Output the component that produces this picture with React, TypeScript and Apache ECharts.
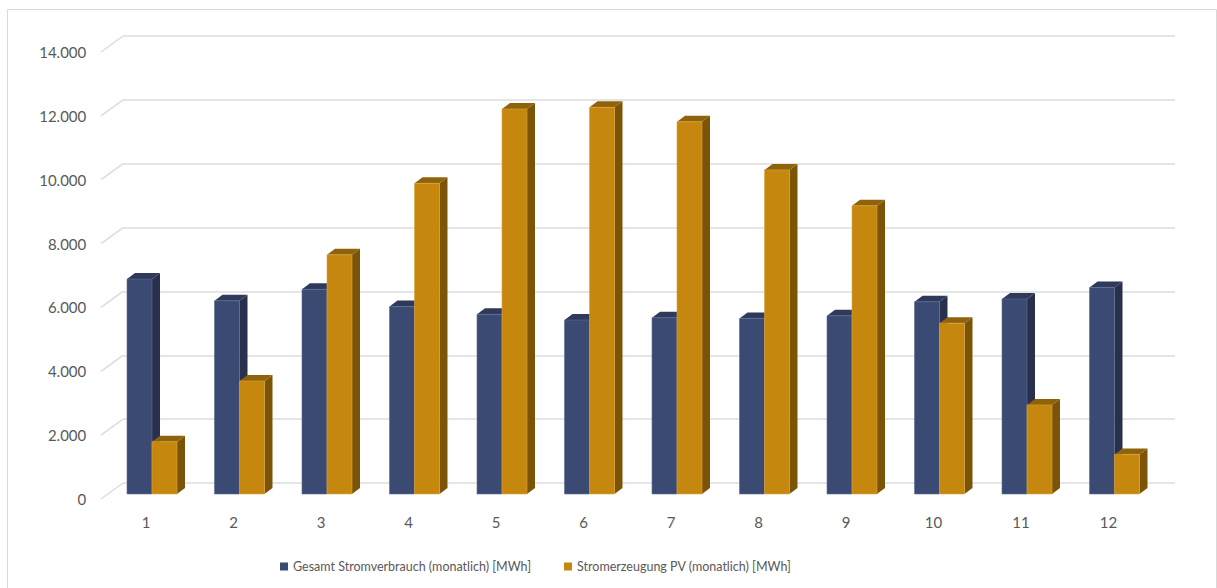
import React, { useEffect, useRef } from "react";
import * as echarts from "echarts";

const categories = ["1", "2", "3", "4", "5", "6", "7", "8", "9", "10", "11", "12"];
const verbrauch = [6730, 6050, 6410, 5870, 5630, 5450, 5520, 5500, 5580, 6020, 6110, 6470];
const pvErzeugung = [1640, 3540, 7490, 9730, 12060, 12110, 11660, 10150, 9030, 5350, 2790, 1240];
const yTicks = [0, 2000, 4000, 6000, 8000, 10000, 12000, 14000];
const seriesNames = [
  "Gesamt Stromverbrauch (monatlich) [MWh]",
  "Stromerzeugung PV (monatlich) [MWh]",
];

const BLUE = { front: "#3b4a73", side: "#28304d", top: "#2e395b", edge: "#5d6b92" };
const GOLD = { front: "#c5870d", side: "#7c5407", top: "#8f6309", edge: "#dba642" };

const FONT = "Lato";
const TEXT = "#595959";
const GRID_COLOR = "#dcdcdc";

const fmt = (v: number) => String(v).replace(/\B(?=(\d{3})+(?!\d))/g, ".");

function makeBarRender(col: any, leftSide: boolean) {
  return (params: any, api: any) => {
    const i = api.value(0);
    const v = api.value(1);
    const top = api.coord([i, v]);
    const base = api.coord([i, 0]);
    const band = api.size([1, 0])[0];
    const w = band * 0.2857;
    const x0 = leftSide ? top[0] - w : top[0];
    const x1 = x0 + w;
    const dx = 8;
    const dy = -6;
    const yT = top[1];
    const yB = base[1];
    return {
      type: "group",
      children: [
        {
          type: "polygon",
          shape: { points: [[x1, yT], [x1 + dx, yT + dy], [x1 + dx, yB + dy], [x1, yB]] },
          style: { fill: col.side },
        },
        {
          type: "polygon",
          shape: { points: [[x0, yT], [x0 + dx, yT + dy], [x1 + dx, yT + dy], [x1, yT]] },
          style: { fill: col.top },
        },
        {
          type: "rect",
          shape: { x: x0, y: yT, width: w, height: yB - yT },
          style: { fill: col.front, stroke: col.edge, lineWidth: 0.6 },
        },
      ],
    };
  };
}

export default function App() {
  const ref = useRef<HTMLDivElement>(null);

  useEffect(() => {
    if (!ref.current) return;
    const chart = echarts.init(ref.current, undefined, { renderer: "svg" });

    const option: any = {
      animation: false,
      backgroundColor: "#ffffff",
      textStyle: { fontFamily: FONT },
      graphic: [
        {
          type: "rect",
          shape: { x: 7.5, y: 9.5, width: 1209, height: 640 },
          style: { fill: "none", stroke: "#d9d9d9", lineWidth: 1 },
          silent: true,
        },
      ],
      legend: {
        data: seriesNames,
        left: 275,
        top: 555,
        icon: "rect",
        itemWidth: 8,
        itemHeight: 8,
        itemGap: 33,
        textStyle: { fontFamily: FONT, fontSize: 12.5, color: TEXT },
      },
      grid: [
        // bar plane
        { left: 108.25, right: 58.75, top: 47, bottom: 94, containLabel: false },
        // back wall
        { left: 123, right: 42, top: 36, bottom: 105, containLabel: false },
        // front plane (labels)
        { left: 102.25, right: 64.75, top: 52, bottom: 89, containLabel: false },
      ],
      xAxis: [
        { type: "category", data: categories, gridIndex: 0, show: false },
        { type: "category", data: categories, gridIndex: 1, show: false },
        {
          type: "category",
          data: categories,
          gridIndex: 2,
          axisLine: { show: false },
          axisTick: { show: false },
          axisLabel: { margin: 15, fontFamily: FONT, fontSize: 15, color: TEXT },
        },
      ],
      yAxis: [
        { type: "value", gridIndex: 0, min: 0, max: 14000, interval: 2000, show: false },
        {
          type: "value",
          gridIndex: 1,
          min: 0,
          max: 14000,
          interval: 2000,
          axisLine: { show: false },
          axisTick: { show: false },
          axisLabel: { show: false },
          splitLine: { show: true, lineStyle: { color: GRID_COLOR, width: 1.5 } },
        },
        {
          type: "value",
          gridIndex: 2,
          min: 0,
          max: 14000,
          interval: 2000,
          axisLine: { show: false },
          axisTick: { show: false },
          splitLine: { show: false },
          axisLabel: {
            margin: 16,
            fontFamily: FONT,
            fontSize: 15,
            color: TEXT,
            formatter: (v: number) => fmt(v),
          },
        },
      ],
      series: [
        {
          name: "diagonals",
          type: "custom",
          xAxisIndex: 2,
          yAxisIndex: 2,
          silent: true,
          data: yTicks.map((v) => [0, v]),
          renderItem: (params: any, api: any) => {
            const p = api.coord([0, api.value(1)]);
            const x = params.coordSys.x;
            return {
              type: "line",
              shape: { x1: x - 1.25, y1: p[1], x2: x + 20.75, y2: p[1] - 16 },
              style: { stroke: GRID_COLOR, lineWidth: 1.5 },
            };
          },
          z: 1,
        },
        {
          name: seriesNames[0],
          type: "custom",
          xAxisIndex: 0,
          yAxisIndex: 0,
          itemStyle: { color: BLUE.front },
          data: verbrauch.map((v, i) => [i, v]),
          renderItem: makeBarRender(BLUE, true),
          z: 3,
        },
        {
          name: seriesNames[1],
          type: "custom",
          xAxisIndex: 0,
          yAxisIndex: 0,
          itemStyle: { color: GOLD.front },
          data: pvErzeugung.map((v, i) => [i, v]),
          renderItem: makeBarRender(GOLD, false),
          z: 4,
        },
      ],
    };

    chart.setOption(option);
    return () => chart.dispose();
  }, []);

  return (
    <div
      ref={ref}
      style={{ position: "fixed", left: 0, top: 0, width: 1217, height: 588 }}
    />
  );
}
